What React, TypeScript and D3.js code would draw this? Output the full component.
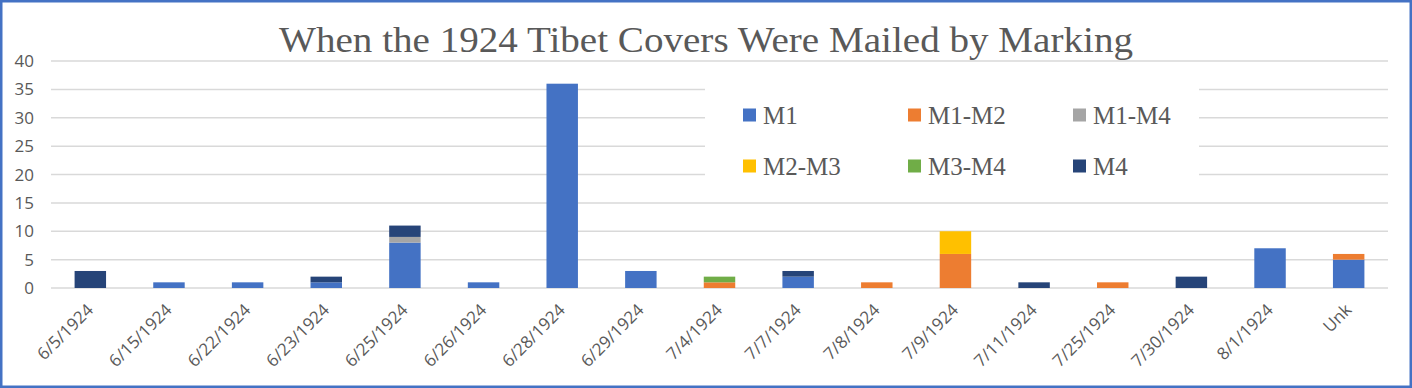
import React, { useEffect, useRef } from 'react';
import * as d3 from 'd3';

// Categories (mailing dates)
const dates = [
  '6/5/1924', '6/15/1924', '6/22/1924', '6/23/1924', '6/25/1924', '6/26/1924',
  '6/28/1924', '6/29/1924', '7/4/1924', '7/7/1924', '7/8/1924', '7/9/1924',
  '7/11/1924', '7/25/1924', '7/30/1924', '8/1/1924', 'Unk',
];

// Series by marking
const seriesNames = ['M1', 'M1-M2', 'M1-M4', 'M2-M3', 'M3-M4', 'M4'];
const m1 = [0, 1, 1, 1, 8, 1, 36, 3, 0, 2, 0, 0, 0, 0, 0, 7, 5];
const m1m2 = [0, 0, 0, 0, 0, 0, 0, 0, 1, 0, 1, 6, 0, 1, 0, 0, 1];
const m1m4 = [0, 0, 0, 0, 1, 0, 0, 0, 0, 0, 0, 0, 0, 0, 0, 0, 0];
const m2m3 = [0, 0, 0, 0, 0, 0, 0, 0, 0, 0, 0, 4, 0, 0, 0, 0, 0];
const m3m4 = [0, 0, 0, 0, 0, 0, 0, 0, 1, 0, 0, 0, 0, 0, 0, 0, 0];
const m4 = [3, 0, 0, 1, 2, 0, 0, 0, 0, 1, 0, 0, 1, 0, 2, 0, 0];
const colors = ['#4472C4', '#ED7D31', '#A5A5A5', '#FFC000', '#70AD47', '#264478'];
const yTicks = [0, 5, 10, 15, 20, 25, 30, 35, 40];

const title = 'When the 1924 Tibet Covers Were Mailed by Marking';

const App = () => {
  const chartRef = useRef<HTMLDivElement>(null);

  useEffect(() => {
    document.body.style.margin = '0';
    const width = 1412;
    const height = 388;
    const plot = { left: 51, right: 1388, top: 61, bottom: 288 };

    const root = d3.select(chartRef.current);
    root.selectAll('*').remove();

    const svg = root.append('svg')
      .attr('width', width)
      .attr('height', height)
      .style('display', 'block');

    svg.append('rect')
      .attr('x', 0).attr('y', 0)
      .attr('width', width).attr('height', height)
      .attr('fill', '#fff');

    // table for stacking
    const all = [m1, m1m2, m1m4, m2m3, m3m4, m4];
    const table = dates.map((d, i) => {
      const row: any = { date: d };
      seriesNames.forEach((s, k) => { row[s] = all[k][i]; });
      return row;
    });
    const stacked = d3.stack().keys(seriesNames)(table);

    const x = d3.scaleBand()
      .domain(dates)
      .range([plot.left, plot.right])
      .paddingInner(0.6)
      .paddingOuter(0.3);

    const y = d3.scaleLinear()
      .domain([0, 40])
      .range([plot.bottom, plot.top]);

    // gridlines
    svg.append('g')
      .selectAll('line')
      .data(yTicks)
      .enter()
      .append('line')
      .attr('x1', plot.left)
      .attr('x2', plot.right)
      .attr('y1', d => y(d))
      .attr('y2', d => y(d))
      .attr('stroke', '#D9D9D9')
      .attr('stroke-width', 1.5);

    // y labels
    svg.append('g')
      .selectAll('text')
      .data(yTicks)
      .enter()
      .append('text')
      .attr('x', 34)
      .attr('y', d => y(d))
      .attr('dy', '0.36em')
      .attr('text-anchor', 'end')
      .attr('font-family', 'Open Sans, sans-serif')
      .attr('font-size', 17)
      .attr('fill', '#595959')
      .text(d => d);

    // bars
    svg.append('g')
      .selectAll('g')
      .data(stacked)
      .enter()
      .append('g')
      .attr('fill', (_, i) => colors[i])
      .selectAll('rect')
      .data(d => d.filter(p => p[1] - p[0] > 0))
      .enter()
      .append('rect')
      .attr('x', (d: any) => x(d.data.date)!)
      .attr('y', d => y(d[1]))
      .attr('width', x.bandwidth())
      .attr('height', d => y(d[0]) - y(d[1]));

    // x labels
    svg.append('g')
      .selectAll('text')
      .data(dates)
      .enter()
      .append('text')
      .attr('transform', d => `translate(${x(d)! + x.bandwidth() / 2 + 4},${plot.bottom + 23}) rotate(-45)`)
      .attr('text-anchor', 'end')
      .attr('font-family', 'Open Sans, sans-serif')
      .attr('font-size', 17)
      .attr('fill', '#595959')
      .text(d => d);

    // legend
    const legend = svg.append('g');
    legend.append('rect')
      .attr('x', 705).attr('y', 80)
      .attr('width', 494).attr('height', 102)
      .attr('fill', '#fff');
    const item = legend.selectAll('g.item')
      .data(seriesNames)
      .enter()
      .append('g')
      .attr('class', 'item')
      .attr('transform', (_, i) => `translate(${743 + (i % 3) * 165},${115 + Math.floor(i / 3) * 51})`);
    item.append('rect')
      .attr('x', 0).attr('y', -6.5)
      .attr('width', 13).attr('height', 13)
      .attr('fill', (_, i) => colors[i]);
    item.append('text')
      .attr('x', 20)
      .attr('y', 0)
      .attr('dy', '0.35em')
      .attr('font-family', 'Liberation Serif, serif')
      .attr('font-size', 25)
      .attr('fill', '#595959')
      .text(d => d);

    // title
    svg.append('text')
      .attr('x', 706)
      .attr('y', 52)
      .attr('text-anchor', 'middle')
      .attr('font-family', 'Liberation Serif, serif')
      .attr('font-size', 36)
      .attr('fill', '#595959')
      .attr('textLength', 854)
      .attr('lengthAdjust', 'spacingAndGlyphs')
      .text(title);

    // outer border
    svg.append('rect')
      .attr('x', 1.25).attr('y', 1.25)
      .attr('width', width - 2.5).attr('height', height - 2.5)
      .attr('fill', 'none')
      .attr('stroke', '#4472C4')
      .attr('stroke-width', 2.5);
  }, []);

  return <div ref={chartRef}></div>;
};

export default App;
